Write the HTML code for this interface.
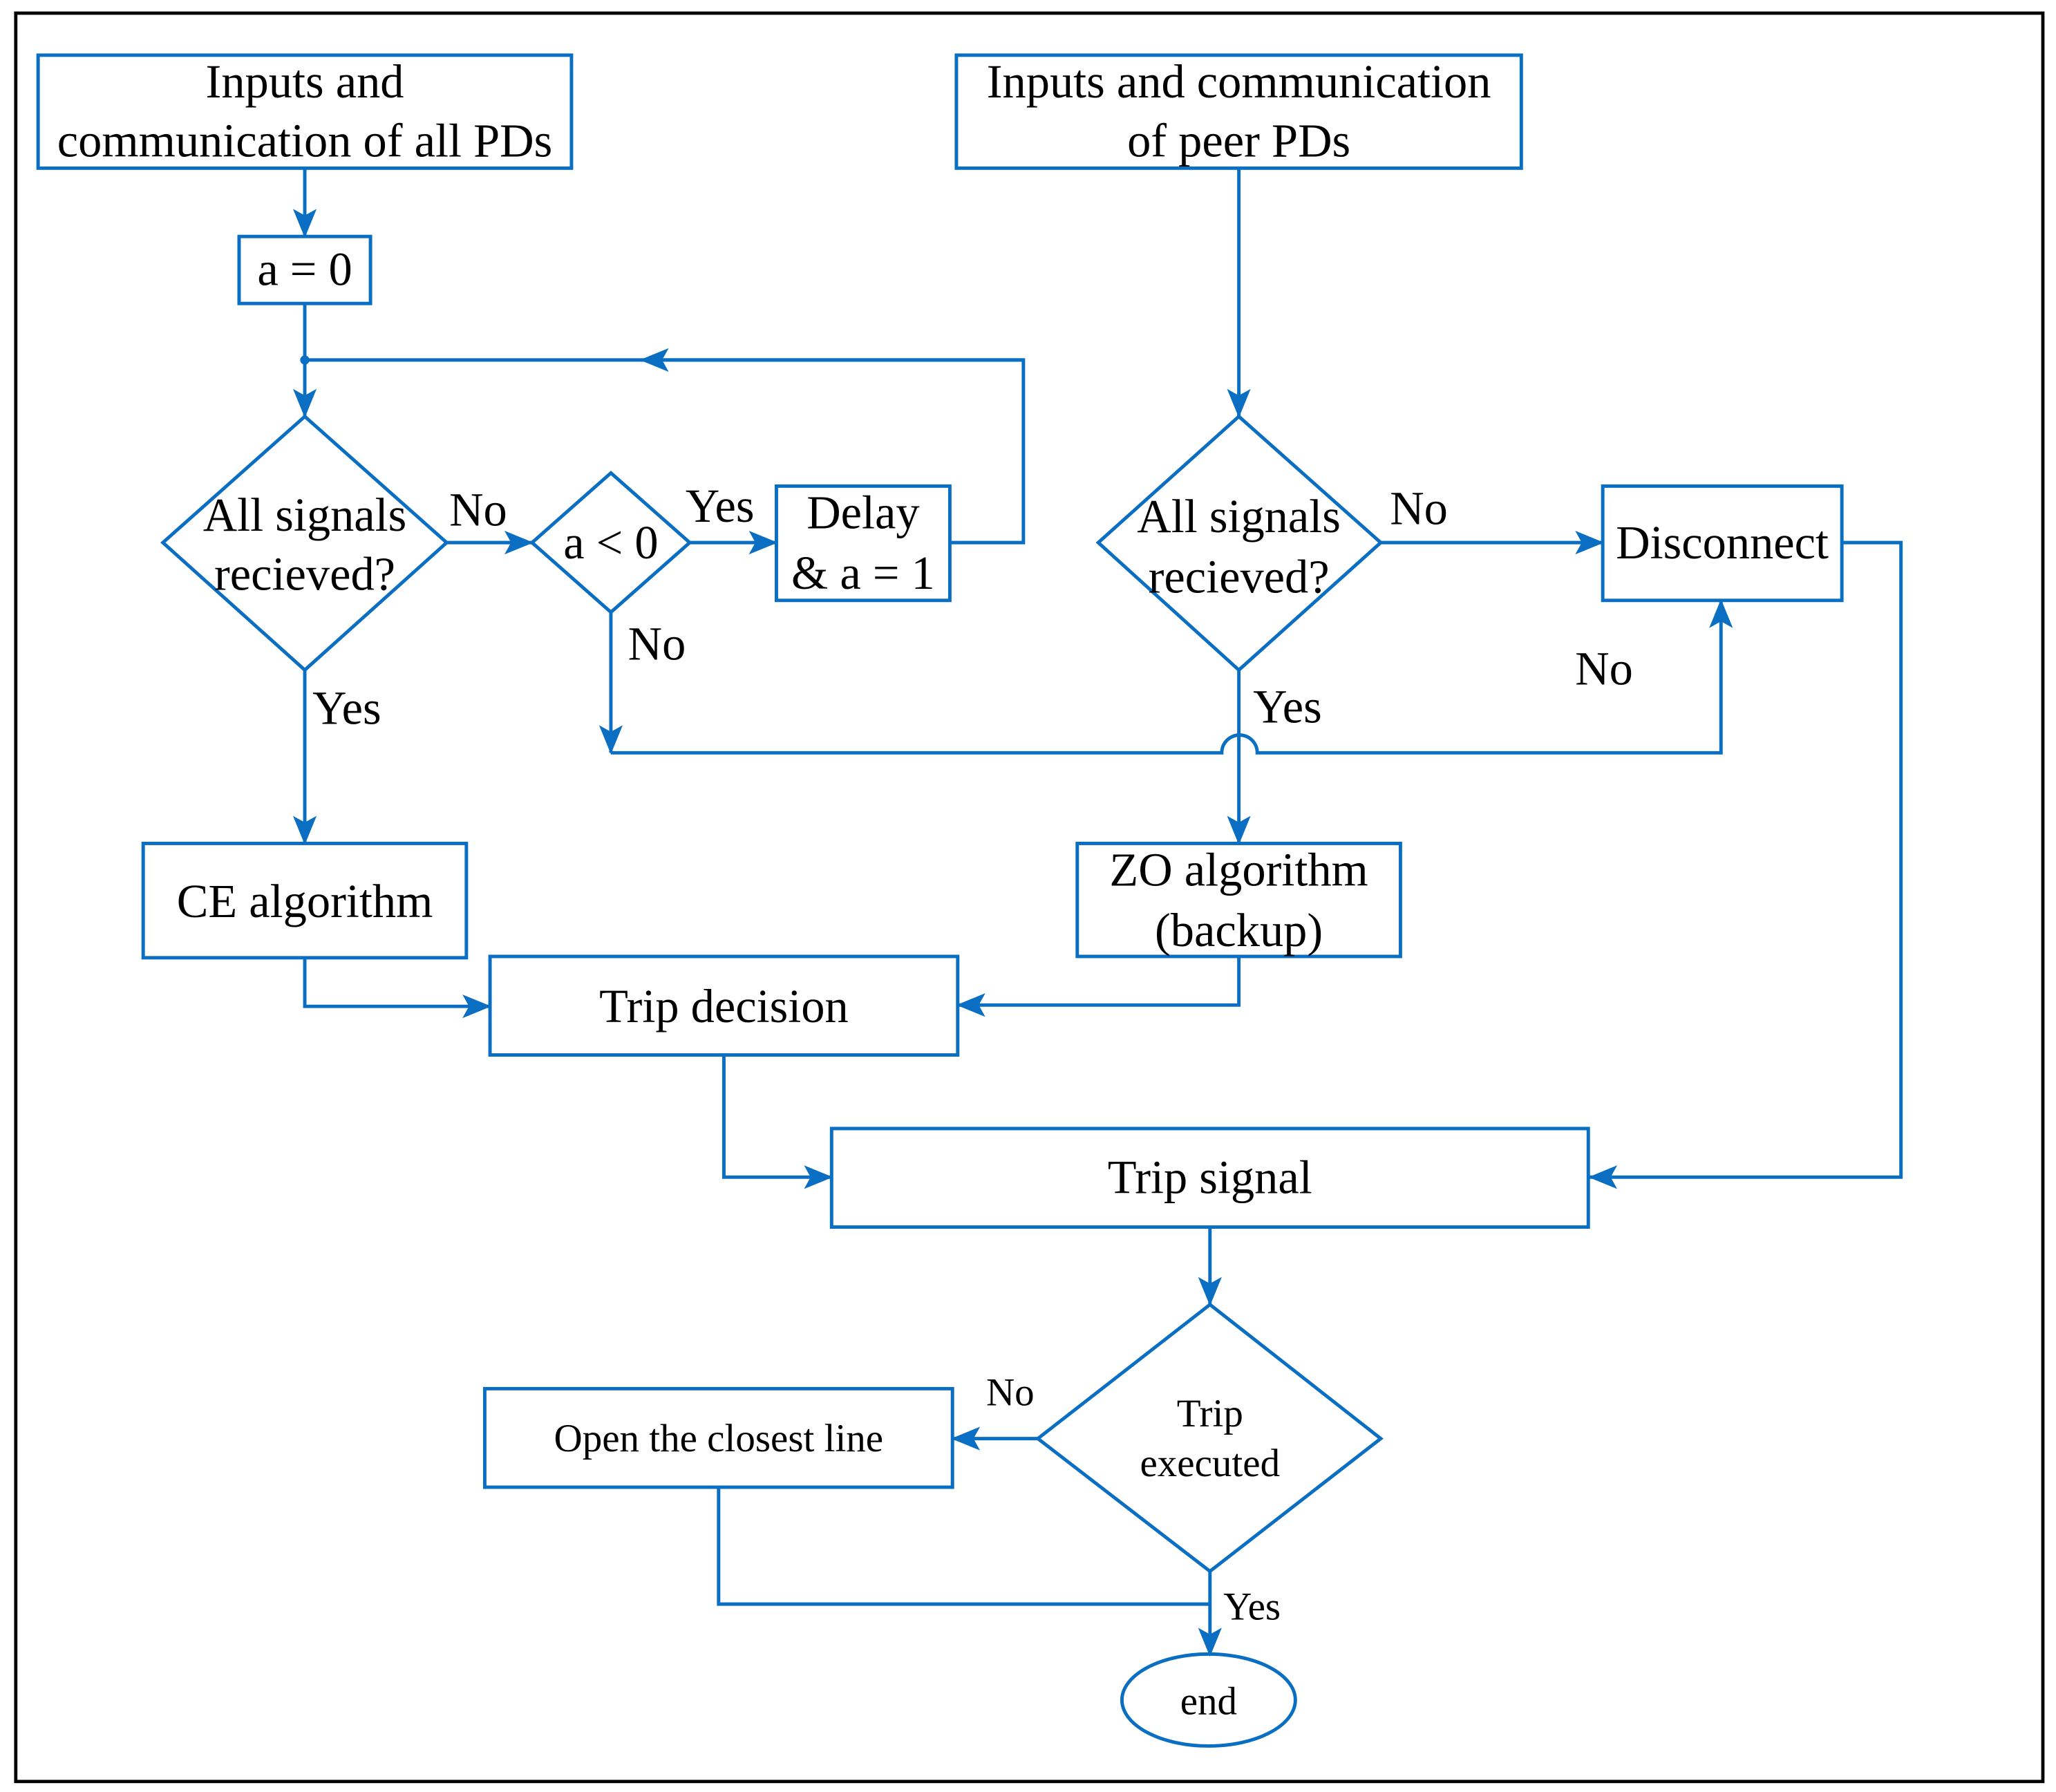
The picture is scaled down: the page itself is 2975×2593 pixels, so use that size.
<!DOCTYPE html>
<html><head><meta charset="utf-8"><style>
html,body{margin:0;padding:0;background:#fff;}
svg{display:block;}
text{font-family:"Liberation Serif",serif;fill:#000;}
</style></head><body>
<svg width="2975" height="2593" viewBox="0 0 1565 1364" preserveAspectRatio="none" xmlns="http://www.w3.org/2000/svg">
<defs>
<marker id="a" markerWidth="22" markerHeight="18" refX="21" refY="9" orient="auto" markerUnits="userSpaceOnUse" viewBox="0 0 22 18">
<path d="M0,0 L22,9 L0,18 L5,9 Z" fill="#0a6fc2"/>
</marker>
</defs>
<rect x="12" y="10" width="1543" height="1346" fill="none" stroke="#000" stroke-width="2.5"/>
<g fill="none" stroke="#0a6fc2" stroke-width="2.6">
<rect x="29" y="42" width="406" height="86"/>
<rect x="728" y="42" width="430" height="86"/>
<rect x="182" y="180" width="100" height="51"/>
<rect x="591" y="370" width="132" height="87"/>
<rect x="1220" y="370" width="182" height="87"/>
<rect x="109" y="642" width="246" height="87"/>
<rect x="820" y="642" width="246" height="86"/>
<rect x="373" y="728" width="356" height="75"/>
<rect x="633" y="859" width="576" height="75"/>
<rect x="369" y="1057" width="356" height="75"/>
<ellipse cx="920" cy="1294" rx="66" ry="35"/>
<polygon points="232,317 340,413 232,510 124,413"/>
<polygon points="465,360 525,413 465,466 405,413"/>
<polygon points="943,317 1051,413 943,510 836,413"/>
<polygon points="921,993 1051,1095 921,1196 790,1095"/>
<path d="M232,128 V180" marker-end="url(#a)"/>
<path d="M232,231 V317" marker-end="url(#a)"/>
<path d="M723,413 H779 V274 H232"/>
<path d="M779,274 H488" marker-end="url(#a)"/>
<path d="M340,413 H405" marker-end="url(#a)"/>
<path d="M525,413 H591" marker-end="url(#a)"/>
<path d="M465,466 V573" marker-end="url(#a)"/>
<path d="M465,573 H930 A13.5,13.5 0 0 1 957,573 H1310 V457" marker-end="url(#a)"/>
<path d="M943,128 V317" marker-end="url(#a)"/>
<path d="M1051,413 H1220" marker-end="url(#a)"/>
<path d="M1402,413 H1447 V896 H1210" marker-end="url(#a)"/>
<path d="M943,510 V642" marker-end="url(#a)"/>
<path d="M232,510 V642" marker-end="url(#a)"/>
<path d="M232,729 V766 H373" marker-end="url(#a)"/>
<path d="M943,728 V765 H729" marker-end="url(#a)"/>
<path d="M551,803 V896 H633" marker-end="url(#a)"/>
<path d="M921,934 V993" marker-end="url(#a)"/>
<path d="M790,1095 H725" marker-end="url(#a)"/>
<path d="M547,1132 V1221 H921"/>
<path d="M921,1196 V1260" marker-end="url(#a)"/>
</g>
<circle cx="232" cy="274" r="3.5" fill="#0a6fc2"/>
<g font-size="36" text-anchor="middle" dominant-baseline="central">
<text x="232" y="62">Inputs and</text>
<text x="232" y="107">communication of all PDs</text>
<text x="943" y="62">Inputs and communication</text>
<text x="943" y="107">of peer PDs</text>
<text x="232" y="205">a = 0</text>
<text x="232" y="392">All signals</text>
<text x="232" y="437">recieved?</text>
<text x="465" y="413">a &lt; 0</text>
<text x="657" y="390">Delay</text>
<text x="657" y="436">&amp; a = 1</text>
<text x="943" y="393">All signals</text>
<text x="943" y="439">recieved?</text>
<text x="1311" y="413">Disconnect</text>
<text x="232" y="686">CE algorithm</text>
<text x="943" y="662">ZO algorithm</text>
<text x="943" y="708">(backup)</text>
<text x="551" y="766">Trip decision</text>
<text x="921" y="896">Trip signal</text>
<text x="364" y="388">No</text>
<text x="548" y="385">Yes</text>
<text x="500" y="490">No</text>
<text x="264" y="539">Yes</text>
<text x="1080" y="387">No</text>
<text x="1221" y="509">No</text>
<text x="980" y="538">Yes</text>
</g>
<g font-size="30" text-anchor="middle" dominant-baseline="central">
<text x="921" y="1076">Trip</text>
<text x="921" y="1114">executed</text>
<text x="547" y="1095">Open the closest line</text>
<text x="769" y="1060">No</text>
<text x="953" y="1223">Yes</text>
<text x="920" y="1295">end</text>
</g>
</svg>
</body></html>
